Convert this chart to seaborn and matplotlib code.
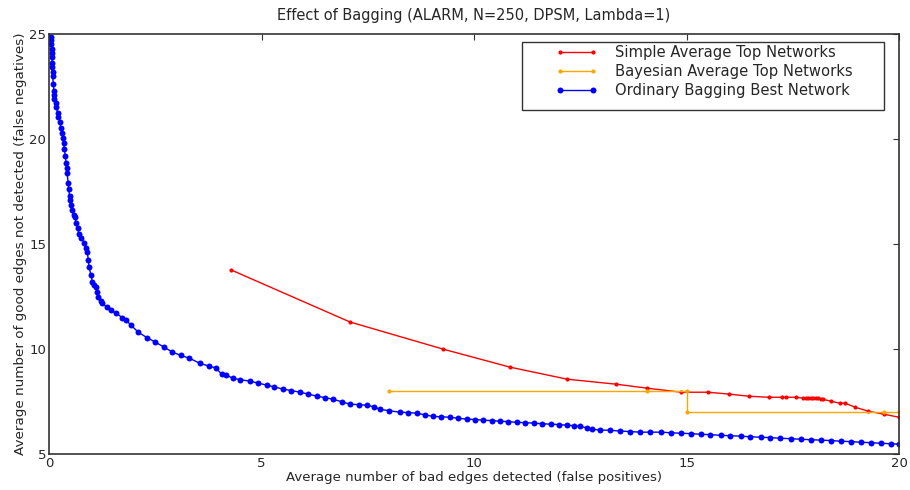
import matplotlib
matplotlib.use("Agg")
import matplotlib.pyplot as plt
from matplotlib.patches import Rectangle
import seaborn as sns

# ---- data ----
simple_x = [4.29, 7.08, 9.27, 10.85, 12.19, 13.35, 14.08, 14.88, 15.5, 16.0, 16.46, 16.93,
            17.24, 17.33, 17.57, 17.74, 17.8, 17.86, 17.92, 17.98, 18.04, 18.1, 18.16, 18.2,
            18.4, 18.6, 18.73, 18.96, 19.27, 19.65, 20.0]
simple_y = [13.76, 11.29, 10.0, 9.14, 8.57, 8.33, 8.14, 7.95, 7.95, 7.86, 7.76, 7.71,
            7.71, 7.71, 7.71, 7.67, 7.69, 7.69, 7.69, 7.69, 7.69, 7.67, 7.64, 7.62,
            7.52, 7.43, 7.43, 7.24, 7.05, 6.9, 6.76]

bayes_x = [8.0, 14.06, 15.0, 15.0, 19.65, 20.0]
bayes_y = [8.0, 8.0, 8.0, 7.0, 7.0, 7.0]

bag_x = [0.04, 0.05, 0.05, 0.06, 0.06, 0.07, 0.07, 0.07, 0.08, 0.08, 0.10, 0.11, 0.12, 0.12,
         0.15, 0.17, 0.20, 0.22, 0.25, 0.28, 0.30, 0.33, 0.34, 0.36, 0.38, 0.40, 0.41, 0.42,
         0.45, 0.46, 0.48, 0.49, 0.51, 0.54, 0.58, 0.60, 0.64, 0.67, 0.70, 0.76, 0.83, 0.86,
         0.90, 0.92, 0.94, 0.98, 1.02, 1.06, 1.10, 1.13, 1.16, 1.21, 1.25, 1.35, 1.46, 1.58,
         1.72, 1.80, 1.92, 2.10, 2.30, 2.50, 2.70, 2.90, 3.10, 3.30, 3.54, 3.75, 3.93, 4.06,
         4.17, 4.32, 4.48, 4.72, 4.92, 5.12, 5.30, 5.50, 5.70, 5.90, 6.10, 6.30, 6.50, 6.67,
         6.88, 7.08, 7.28, 7.48, 7.65, 7.78, 8.00, 8.25, 8.45, 8.66, 8.85, 9.03, 9.23, 9.43,
         9.63, 9.83, 10.02, 10.21, 10.41, 10.61, 10.8, 11.0, 11.2, 11.4, 11.6, 11.8, 12.0,
         12.19, 12.35, 12.5, 12.65, 12.78, 12.97, 13.2, 13.44, 13.67, 13.9, 14.15, 14.4,
         14.63, 14.86, 15.1, 15.33, 15.56, 15.8, 16.03, 16.27, 16.5, 16.75, 16.97, 17.2,
         17.45, 17.7, 17.93, 18.16, 18.4, 18.63, 18.87, 19.1, 19.34, 19.58, 19.8, 20.0]
bag_y = [24.85, 24.7, 24.5, 24.3, 24.1, 23.9, 23.6, 23.4, 23.2, 23.0, 22.6, 22.3, 22.1, 21.9,
         21.7, 21.5, 21.25, 21.05, 20.8, 20.5, 20.3, 20.05, 19.8, 19.5, 19.2, 18.86, 18.6, 18.4,
         17.9, 17.6, 17.3, 17.1, 16.85, 16.6, 16.4, 16.3, 16.0, 15.75, 15.5, 15.3, 15.05, 14.8,
         14.6, 14.25, 13.9, 13.55, 13.2, 13.05, 12.95, 12.7, 12.5, 12.3, 12.2, 12.0, 11.85, 11.7,
         11.5, 11.4, 11.15, 10.8, 10.55, 10.33, 10.1, 9.86, 9.7, 9.57, 9.33, 9.2, 9.1, 8.8,
         8.76, 8.62, 8.55, 8.48, 8.38, 8.29, 8.2, 8.1, 8.03, 7.95, 7.86, 7.76, 7.69, 7.62,
         7.5, 7.38, 7.36, 7.33, 7.25, 7.14, 7.07, 7.0, 6.98, 6.95, 6.87, 6.8, 6.78, 6.76,
         6.71, 6.67, 6.65, 6.62, 6.6, 6.57, 6.55, 6.52, 6.5, 6.48, 6.45, 6.43, 6.41,
         6.38, 6.36, 6.33, 6.25, 6.19, 6.15, 6.14, 6.1, 6.08, 6.05, 6.05, 6.05,
         6.02, 6.0, 5.98, 5.95, 5.93, 5.9, 5.88, 5.86, 5.83, 5.81, 5.79, 5.76,
         5.74, 5.71, 5.69, 5.67, 5.65, 5.62, 5.6, 5.57, 5.55, 5.52, 5.5, 5.48]

labels = ["Simple Average Top Networks", "Bayesian Average Top Networks",
          "Ordinary Bagging Best Network"]
title = "Effect of Bagging (ALARM, N=250, DPSM, Lambda=1)"
xlabel = "Average number of bad edges detected (false positives)"
ylabel = "Average number of good edges not detected (false negatives)"
xticks = [0, 5, 10, 15, 20]
yticks = [5, 10, 15, 20, 25]

# ---- plot ----
sns.set_style("white")
plt.rcParams["font.family"] = ["DejaVu Sans"]
plt.rcParams["xtick.direction"] = "in"
plt.rcParams["ytick.direction"] = "in"

fig = plt.figure(figsize=(9.1, 4.9), dpi=100)
ax = fig.add_axes([0.054, 0.073, 0.934, 0.858])

sns.lineplot(x=simple_x, y=simple_y, sort=False, estimator=None, ax=ax, color="#ff0000",
             marker="o", markersize=3.0, markeredgewidth=0, linewidth=1.0, label=labels[0])
sns.lineplot(x=bayes_x, y=bayes_y, sort=False, estimator=None, ax=ax, color="#ffa500",
             marker="o", markersize=3.0, markeredgewidth=0, linewidth=1.0, label=labels[1])
sns.lineplot(x=bag_x, y=bag_y, sort=False, estimator=None, ax=ax, color="#0000ff",
             marker="o", markersize=4.3, markeredgewidth=0, linewidth=1.0, label=labels[2])

ax.set_xlim(0, 20)
ax.set_ylim(5, 25)
ax.set_xticks(xticks)
ax.set_yticks(yticks)
ax.tick_params(axis="both", which="both", direction="in", length=4, width=0.8,
               top=True, right=True, labelsize=9.5, pad=2, color="#333333")
for s in ax.spines.values():
    s.set_color("#333333")
    s.set_linewidth(1.2)

ax.set_title(title, fontsize=10.5, pad=10)
ax.set_xlabel(xlabel, fontsize=9.5, labelpad=1)
ax.set_ylabel(ylabel, fontsize=9.7, labelpad=2)

# legend frame (drawn separately to match the wide horizontal padding)
ax.add_patch(Rectangle((0.556, 0.819), 0.426, 0.162, transform=ax.transAxes,
                       facecolor="white", edgecolor="#333333", linewidth=1.0, zorder=5))
leg = ax.legend(loc="upper left", bbox_to_anchor=(0.596, 0.974), numpoints=2, fontsize=10.6,
                frameon=False, borderpad=0, borderaxespad=0, handlelength=2.86,
                handletextpad=1.15, labelspacing=0.29)
leg.set_zorder(6)

fig.savefig("out.png", dpi=100)
